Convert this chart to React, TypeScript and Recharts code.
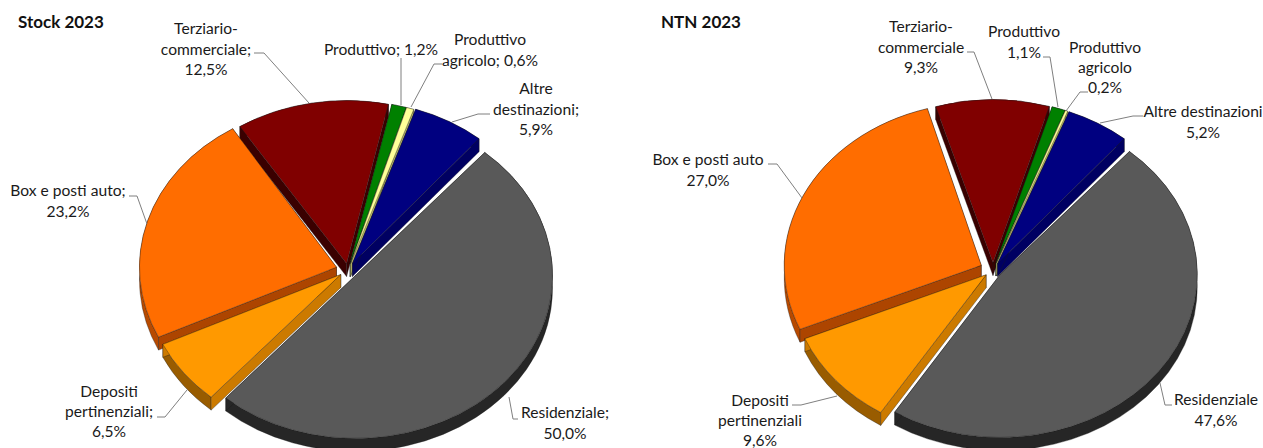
import { PieChart, Pie, Cell } from "recharts";

const categories = [
  "Altre destinazioni",
  "Produttivo agricolo",
  "Produttivo",
  "Terziario-commerciale",
  "Box e posti auto",
  "Depositi pertinenziali",
  "Residenziale",
];
const stockValues = [5.9, 0.6, 1.2, 12.5, 23.2, 6.5, 50.0];
const ntnValues = [5.2, 0.2, 1.1, 9.3, 27.0, 9.6, 47.6];

// painted first (top of the pie, clockwise) and then the front slices over them
const backGroup = ["Terziario-commerciale", "Produttivo", "Produttivo agricolo", "Altre destinazioni"];
const frontGroup = ["Box e posti auto", "Depositi pertinenziali", "Residenziale"];

const topColors = ["#000080", "#FFFF99", "#008000", "#800000", "#FF6D00", "#FF9900", "#595959"];
const edgeColors = ["#000062", "#B8B86A", "#004A00", "#3A0000", "#AD4500", "#CC7A00", "#262626"];
const rimColors = ["#000062", "#B8B86A", "#004A00", "#4A0000", "#B84A00", "#995C00", "#262626"];

const stockExplode = [9, 8, 8, 8, 12, 9, 10];
const ntnExplode = [9, 9, 9, 9, 13, 9, 9];

type Note = { x: number; lines: string[]; ys: number[]; leader: number[][] };

const stockNotes: Note[] = [
  { x: 536, lines: ["Altre", "destinazioni;", "5,9%"], ys: [89, 110, 130], leader: [[490, 114], [478, 114], [452, 122]] },
  { x: 490, lines: ["Produttivo", "agricolo; 0,6%"], ys: [40, 61], leader: [[442, 64], [434, 64], [411, 107]] },
  { x: 381, lines: ["Produttivo; 1,2%"], ys: [50], leader: [[401, 58], [401, 105]] },
  { x: 206, lines: ["Terziario-", "commerciale;", "12,5%"], ys: [29, 50, 70], leader: [[254, 53], [264, 53], [309, 103]] },
  { x: 68, lines: ["Box e posti auto;", "23,2%"], ys: [191, 212], leader: [[129, 196], [137, 196], [147, 224]] },
  { x: 109, lines: ["Depositi", "pertinenziali;", "6,5%"], ys: [392, 412, 432], leader: [[157, 417], [165, 417], [187, 390]] },
  { x: 565, lines: ["Residenziale;", "50,0%"], ys: [413, 434], leader: [[518, 419], [513, 419], [509, 397]] },
];

const ntnNotes: Note[] = [
  { x: 563, lines: ["Altre destinazioni", "5,2%"], ys: [112, 133], leader: [[503, 116], [493, 116], [460, 123]] },
  { x: 465, lines: ["Produttivo", "agricolo", "0,2%"], ys: [48, 68, 88], leader: [[448, 92], [440, 92], [426, 111]] },
  { x: 384, lines: ["Produttivo", "1,1%"], ys: [32, 53], leader: [[403, 57], [410, 57], [418, 107]] },
  { x: 281, lines: ["Terziario-", "commerciale", "9,3%"], ys: [27, 48, 68], leader: [[327, 52], [334, 52], [352, 99]] },
  { x: 68, lines: ["Box e posti auto", "27,0%"], ys: [160, 181], leader: [[128, 164], [137, 164], [162, 198]] },
  { x: 120, lines: ["Depositi", "pertinenziali", "9,6%"], ys: [401, 421, 441], leader: [[152, 405], [161, 405], [197, 396]] },
  { x: 576, lines: ["Residenziale", "47,6%"], ys: [400, 421], leader: [[532, 405], [525, 405], [520, 383]] },
];

const SQUASH = 0.827;
const DEPTH = 13;
const RAD = Math.PI / 180;
const FONT = "Lato, 'Open Sans', sans-serif";
const START = 49;
const BACK_TURN = 1; // the reference's perspective pulls the top slices a little to the left

const rowsFor = (names: string[], values: number[]) =>
  names.map((name) => ({ name, value: values[categories.indexOf(name)] }));

// the pie is tilted by hand: the library gives the angles, this squashes them into an ellipse
function makeSlice(names: string[], explode: number[]) {
  return function Slice(props: any) {
    const { cx, cy, outerRadius, index } = props;
    const i = categories.indexOf(names[index]);
    const startAngle = Math.min(props.startAngle, props.endAngle);
    const endAngle = Math.max(props.startAngle, props.endAngle);
    const mid = (startAngle + endAngle) / 2;
    const ax = cx + explode[i] * Math.cos(mid * RAD);
    const ay = cy - explode[i] * SQUASH * Math.sin(mid * RAD);
    const rx = outerRadius;
    const ry = outerRadius * SQUASH;
    const px = (a: number) => ax + rx * Math.cos(a * RAD);
    const py = (a: number) => ay - ry * Math.sin(a * RAD);
    const large = endAngle - startAngle > 180 ? 1 : 0;
    const x1 = px(startAngle);
    const y1 = py(startAngle);
    const x2 = px(endAngle);
    const y2 = py(endAngle);
    const arc = `A${rx} ${ry} 0 ${large} 0 ${x2} ${y2}`;
    const top = `M${ax} ${ay}L${x1} ${y1}${arc}Z`;
    const rim = `M${x1} ${y1}${arc}L${x2} ${y2 + DEPTH}A${rx} ${ry} 0 ${large} 1 ${x1} ${y1 + DEPTH}Z`;
    const edgeA = `M${ax} ${ay}L${x1} ${y1}L${x1} ${y1 + DEPTH}L${ax} ${ay + DEPTH}Z`;
    const edgeB = `M${ax} ${ay}L${x2} ${y2}L${x2} ${y2 + DEPTH}L${ax} ${ay + DEPTH}Z`;
    const line = { stroke: "#1a1a1a", strokeWidth: 0.5, strokeOpacity: 0.7 };
    return (
      <g>
        <path d={rim} fill={rimColors[i]} {...line} />
        <path d={edgeA} fill={edgeColors[i]} {...line} />
        <path d={edgeB} fill={edgeColors[i]} {...line} />
        <path d={top} fill={topColors[i]} {...line} />
      </g>
    );
  };
}

function makeNote(names: string[], notes: Note[]) {
  return function NoteLabel(props: any) {
    const note = notes[categories.indexOf(names[props.index])];
    return (
      <g>
        <polyline
          points={note.leader.map((p) => p.join(",")).join(" ")}
          fill="none"
          stroke="#7f7f7f"
          strokeWidth={1}
        />
        {note.lines.map((t, k) => (
          <text
            key={k}
            x={note.x}
            y={note.ys[k] + 5}
            textAnchor="middle"
            fontFamily={FONT}
            fontSize={15.6}
            fill="#1a1a1a"
          >
            {t}
          </text>
        ))}
      </g>
    );
  };
}

function TiltedPie(props: {
  title: string;
  titleX: number;
  left: number;
  width: number;
  cx: number;
  cy: number;
  values: number[];
  explode: number[];
  notes: Note[];
}) {
  const total = props.values.reduce((a, b) => a + b, 0);
  const backTotal = backGroup.reduce((a, n) => a + props.values[categories.indexOf(n)], 0);
  const split = START + (backTotal / total) * 360;
  const groups = [
    { names: backGroup, from: split + BACK_TURN, to: START + BACK_TURN },
    { names: frontGroup, from: split, to: START + 360 },
  ];
  return (
    <div style={{ position: "absolute", left: props.left, top: 0, width: props.width, height: 448 }}>
      <PieChart width={props.width} height={448} margin={{ top: 0, right: 0, bottom: 0, left: 0 }}>
        <text x={props.titleX} y={28} fontFamily={FONT} fontSize={17} fontWeight={700} fill="#111">
          {props.title}
        </text>
        {groups.map((g) => {
          const slice = makeSlice(g.names, props.explode);
          const extra: any = { shape: slice, inactiveShape: slice };
          return (
            <Pie
              key={g.names[0]}
              data={rowsFor(g.names, props.values)}
              dataKey="value"
              nameKey="name"
              cx={props.cx}
              cy={props.cy}
              outerRadius={197}
              startAngle={g.from}
              endAngle={g.to}
              stroke="none"
              labelLine={false}
              label={makeNote(g.names, props.notes)}
              isAnimationActive={false}
              {...extra}
            >
              {g.names.map((n) => (
                <Cell key={n} fill={topColors[categories.indexOf(n)]} />
              ))}
            </Pie>
          );
        })}
      </PieChart>
    </div>
  );
}

export default function App() {
  return (
    <div style={{ position: "absolute", left: 0, top: 0, width: 1263, height: 448, overflow: "hidden", background: "#fff" }}>
      <TiltedPie title="Stock 2023" titleX={18} left={0} width={640} cx={348} cy={270} values={stockValues} explode={stockExplode} notes={stockNotes} />
      <TiltedPie title="NTN 2023" titleX={21} left={640} width={623} cx={353} cy={270} values={ntnValues} explode={ntnExplode} notes={ntnNotes} />
    </div>
  );
}
